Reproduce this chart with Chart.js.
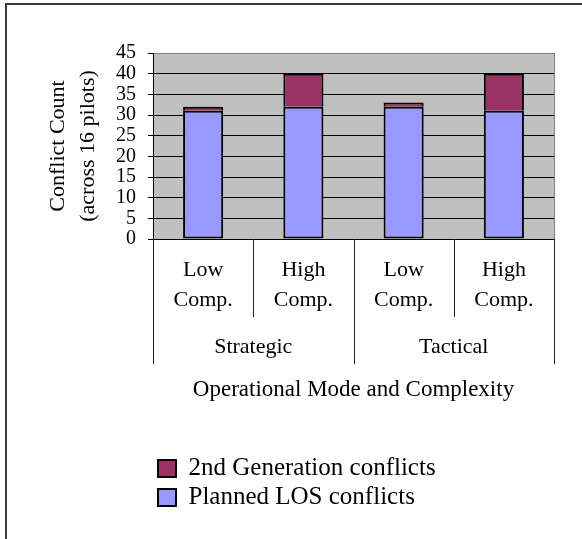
<!DOCTYPE html>
<html>
<head>
<meta charset="utf-8">
<script src="https://cdn.jsdelivr.net/npm/chart.js@4/dist/chart.umd.min.js"></script>
<style>
  body { margin: 0; background: #fff; }
  #wrap { width: 582px; height: 539px; }
</style>
</head>
<body>
<div id="wrap"><canvas id="chart" width="582" height="539"></canvas></div>
<script>
// data
var categories = [["Low", "Comp."], ["High", "Comp."], ["Low", "Comp."], ["High", "Comp."]];
var groups = ["Strategic", "Tactical"];
var plannedLos = [31, 32, 32, 31];
var secondGen = [1, 8, 1, 9];
var yTicks = [0, 5, 10, 15, 20, 25, 30, 35, 40, 45];

var serif = "'Liberation Serif', 'Times New Roman', serif";

// white page, outer frame, grey plot area
var frame = {
    id: "frame",
    afterLayout: function(chart) {
        // legend sits a hair right of the plot's left edge
        if (chart.legend) {
            chart.legend.left += 1;
            chart.legend.right += 1;
        }
    },
    beforeDraw: function(chart) {
        var ctx = chart.ctx;
        var a = chart.chartArea;
        ctx.save();
        ctx.fillStyle = "#fff";
        ctx.fillRect(0, 0, chart.width, chart.height);
        ctx.strokeStyle = "#383838";
        ctx.lineWidth = 2;
        ctx.beginPath();
        ctx.moveTo(6, chart.height);
        ctx.lineTo(6, 4);
        ctx.lineTo(chart.width, 4);
        ctx.stroke();
        ctx.fillStyle = "#c0c0c0";
        ctx.fillRect(a.left, a.top, a.right - a.left, a.bottom - a.top);
        ctx.restore();
    },
    beforeDatasetsDraw: function(chart) {
        var ctx = chart.ctx;
        var a = chart.chartArea;
        ctx.save();
        ctx.strokeStyle = "#808080";
        ctx.lineWidth = 1;
        ctx.beginPath();
        ctx.moveTo(a.right + 0.5, a.top);
        ctx.lineTo(a.right + 0.5, a.bottom);
        ctx.stroke();
        ctx.restore();
    },
    // separators under the category axis (short ones inside a group, long ones between groups)
    afterDraw: function(chart) {
        var ctx = chart.ctx;
        var x = chart.scales.x;
        var x2 = chart.scales.x2;
        var n = categories.length;
        var step = (x.right - x.left) / n;
        ctx.save();
        ctx.strokeStyle = "#202020";
        ctx.lineWidth = 1;
        for (var i = 0; i <= n; i++) {
            var px = Math.round(x.left + i * step) + 0.5;
            var end = (i % 2 == 0) ? x2.top + 47 : x.bottom;
            ctx.beginPath();
            ctx.moveTo(px, x.top);
            ctx.lineTo(px, end);
            ctx.stroke();
        }
        ctx.restore();
    }
};

new Chart(document.getElementById("chart"), {
    type: "bar",
    data: {
        labels: categories,
        datasets: [{
            label: "Planned LOS conflicts",
            data: plannedLos,
            backgroundColor: "#9999ff",
            borderColor: "#000",
            borderWidth: 2,
            borderSkipped: false,
            barPercentage: 0.4,
            categoryPercentage: 1
        }, {
            label: "2nd Generation conflicts",
            data: secondGen,
            backgroundColor: "#993366",
            borderColor: "#000",
            // no bottom edge, the blue bar's top already draws it
            borderWidth: { top: 2, left: 2, right: 2, bottom: 0 },
            borderSkipped: false,
            barPercentage: 0.4,
            categoryPercentage: 1
        }]
    },
    options: {
        responsive: false,
        animation: false,
        layout: { padding: { left: 6, top: 53, right: 28, bottom: 19 } },
        plugins: {
            tooltip: { enabled: false },
            legend: {
                position: "bottom",
                fullSize: false,
                align: "start",
                reverse: true,
                labels: {
                    color: "#000",
                    font: { family: serif, size: 25 },
                    boxWidth: 18,
                    boxHeight: 17,
                    padding: 4,
                    generateLabels: function(chart) {
                        // keep the legend boxes with an even 2px outline
                        var items = Chart.defaults.plugins.legend.labels.generateLabels(chart);
                        items.forEach(function(it) { it.lineWidth = 2; });
                        return items;
                    }
                }
            }
        },
        scales: {
            x: {
                stacked: true,
                grid: { display: false },
                border: { display: true, color: "#000", width: 1 },
                ticks: {
                    color: "#000",
                    font: { family: serif, size: 22, lineHeight: 1.36 },
                    padding: 8,
                    maxRotation: 0,
                    autoSkip: false
                },
                afterFit: function(scale) { scale.height = 78; }
            },
            x2: {
                type: "category",
                labels: groups,
                offset: true,
                position: "bottom",
                grid: { display: false },
                border: { display: false },
                ticks: {
                    color: "#000",
                    font: { family: serif, size: 22 },
                    padding: 9,
                    maxRotation: 0
                },
                title: {
                    display: true,
                    text: "Operational Mode and Complexity",
                    color: "#000",
                    font: { family: serif, size: 23 },
                    padding: { top: 0, bottom: 48 }
                },
                afterFit: function(scale) { scale.height = 135; }
            },
            y: {
                stacked: true,
                min: 0,
                max: 45,
                afterBuildTicks: function(scale) {
                    scale.ticks = yTicks.map(function(v) { return { value: v }; });
                },
                grid: {
                    color: function(c) { return c.tick && c.tick.value == 45 ? "#808080" : "#000"; },
                    lineWidth: 1,
                    tickLength: 5,
                    tickColor: "#000"
                },
                border: { display: true, color: "#000", width: 1 },
                ticks: {
                    color: "#000",
                    font: { family: serif, size: 20 },
                    padding: 12,
                    stepSize: 5,
                    autoSkip: false
                },
                title: {
                    display: true,
                    text: ["Conflict Count", "(across 16 pilots)"],
                    color: "#000",
                    font: { family: serif, size: 22, lineHeight: 1.36 },
                    padding: { top: 37, bottom: 0 }
                },
                afterFit: function(scale) { scale.width = 147; }
            }
        }
    },
    plugins: [frame]
});
</script>
</body>
</html>
